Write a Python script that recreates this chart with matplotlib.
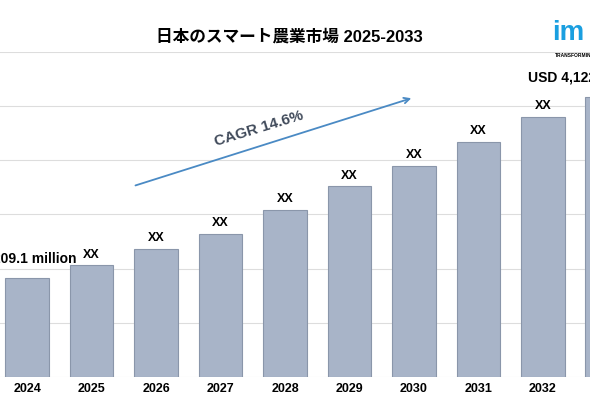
import matplotlib
matplotlib.use('Agg')
import matplotlib.pyplot as plt

plt.rcParams['font.family'] = ['Liberation Sans', 'Noto Sans CJK JP']

years = ['2024', '2025', '2026', '2027', '2028', '2029', '2030', '2031', '2032', '2033']
values = [91, 103, 118, 132, 154, 176, 195, 217, 240, 258]
labels = ['209.1 million', 'XX', 'XX', 'XX', 'XX', 'XX', 'XX', 'XX', 'XX', 'USD 4,122']

fig = plt.figure(figsize=(5.9, 4.1), dpi=100)
ax = fig.add_axes([0, 0.078, 1, 0.793])
x = list(range(len(years)))
ax.bar(x, values, width=0.68, color='#a8b4c8', edgecolor='#8a96aa', linewidth=0.8, zorder=3)
ax.set_yticks([0, 50, 100, 150, 200, 250, 300])
ax.yaxis.grid(True, color='#dddddd', linewidth=0.8, zorder=0)
ax.set_yticklabels([])
ax.tick_params(length=0)
ax.set_xticks(x)
ax.set_xticklabels(years, fontsize=9, fontweight='bold')
ax.set_xlim(-0.42, 8.73)
ax.set_ylim(0, 300)
for s in ax.spines.values():
    s.set_visible(False)

for i, (v, lab) in enumerate(zip(values, labels)):
    if i == 0:
        ax.text(i + 0.12, v + 15, lab, ha='center', fontsize=10, fontweight='bold')
    elif i == 9:
        ax.text(i - 1.23, v + 16, lab, ha='left', fontsize=10, fontweight='bold')
    else:
        ax.text(i, v + 8, lab, ha='center', fontsize=9, fontweight='bold')

ax.annotate('', xy=(6.0, 258), xytext=(1.64, 176),
            arrowprops=dict(arrowstyle='->', color='#4a8ac4', lw=1.3))
ax.text(3.6, 230, 'CAGR 14.6%', rotation=17, ha='center', va='center',
        fontsize=11, fontweight='bold', color='#404a5a')

fig.text(0.49, 0.91, '日本のスマート農業市場 2025-2033', ha='center', va='center',
         fontsize=12, fontweight='bold')
fig.text(0.935, 0.92, 'im', color='#1a9fe0', fontsize=20, fontweight='bold', va='center')
fig.text(0.94, 0.86, 'TRANSFORMING', fontsize=3.5, fontweight='bold')

fig.savefig('out.png', dpi=100)
